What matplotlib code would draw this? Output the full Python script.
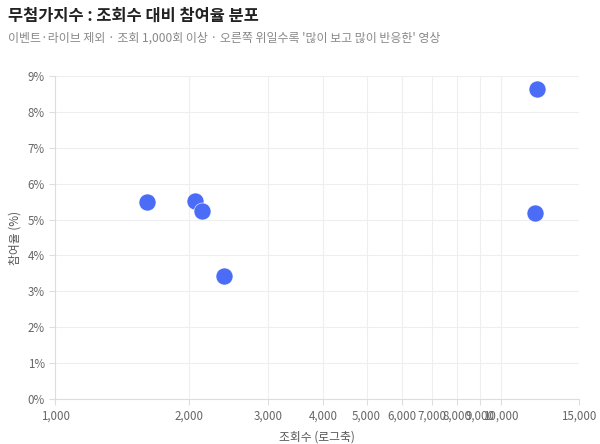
import matplotlib
matplotlib.use("Agg")
import matplotlib.pyplot as plt
from matplotlib.ticker import FixedLocator, FixedFormatter, NullLocator

plt.rcParams['font.family'] = ['Noto Sans CJK KR', 'DejaVu Sans']

views = [1605, 2063, 2139, 2397, 12085, 11960]
rates = [5.49, 5.53, 5.23, 3.43, 8.65, 5.17]

x_ticks = [1000, 2000, 3000, 4000, 5000, 6000, 7000, 8000, 9000, 10000, 15000]
x_labels = ["1,000", "2,000", "3,000", "4,000", "5,000", "6,000", "7,000", "8,000", "9,000", "10,000", "15,000"]
y_ticks = [0, 1, 2, 3, 4, 5, 6, 7, 8, 9]
y_labels = [f"{v}%" for v in y_ticks]

title = "무첨가지수 : 조회수 대비 참여율 분포"
subtitle = "이벤트·라이브 제외 · 조회 1,000회 이상 · 오른쪽 위일수록 '많이 보고 많이 반응한' 영상"

fig = plt.figure(figsize=(6, 4.44), dpi=100)
ax = fig.add_axes([0.092, 0.1014, 0.873, 0.7275])

ax.scatter(views, rates, s=150, color="#4a6cf7", edgecolors="white", linewidths=0.4, zorder=3)

ax.set_xscale("log")
ax.set_xlim(1000, 15000)
ax.set_ylim(0, 9)
ax.xaxis.set_major_locator(FixedLocator(x_ticks))
ax.xaxis.set_major_formatter(FixedFormatter(x_labels))
ax.xaxis.set_minor_locator(NullLocator())
ax.set_yticks(y_ticks)
ax.set_yticklabels(y_labels)

ax.grid(True, color="#eeeeee", linewidth=0.8, zorder=0)
for s in ["top", "right"]:
    ax.spines[s].set_visible(False)
for s in ["left", "bottom"]:
    ax.spines[s].set_color("#dddddd")
    ax.spines[s].set_linewidth(0.8)
ax.tick_params(axis="both", colors="#dddddd", labelcolor="#666666", labelsize=8.3, length=4, width=0.8)

ax.set_xlabel("조회수 (로그축)", fontsize=8.5, color="#555555", labelpad=6)
ax.set_ylabel("참여율 (%)", fontsize=8.5, color="#555555", labelpad=4)

fig.text(0.013, 0.964, title, fontsize=11.8, fontweight="bold", color="#222222", va="center")
fig.text(0.013, 0.913, subtitle, fontsize=8.6, color="#888888", va="center")

fig.savefig("out.png", dpi=100, facecolor="white")
